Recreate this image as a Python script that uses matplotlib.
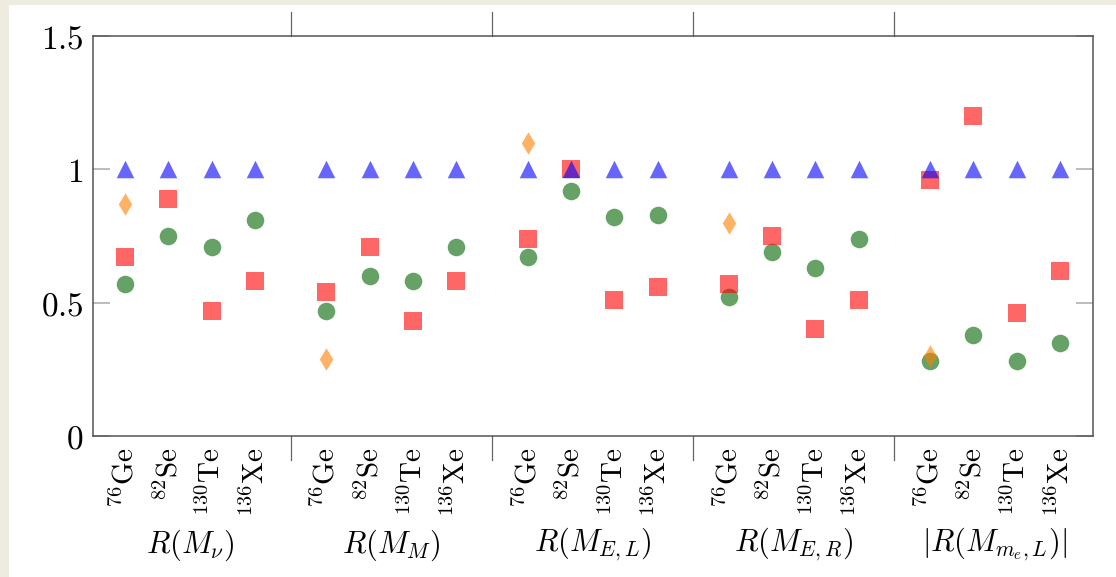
import numpy as np
import matplotlib.pyplot as plt
from matplotlib.patches import Rectangle

plt.rcParams['mathtext.fontset'] = 'cm'
plt.rcParams['font.family'] = ['DejaVu Serif']

# data
nuclei = [r'$^{76}\mathrm{Ge}$', r'$^{82}\mathrm{Se}$', r'$^{130}\mathrm{Te}$', r'$^{136}\mathrm{Xe}$']
groups = [r'$R(M_\nu)$', r'$R(M_M)$', r'$R(M_{E,L})$', r'$R(M_{E,R})$', r'$|R(M_{m_e,L})|$']

blue = [1, 1, 1, 1] * 5
red = [0.67, 0.89, 0.47, 0.58,
       0.54, 0.71, 0.43, 0.58,
       0.74, 1.00, 0.51, 0.56,
       0.57, 0.75, 0.40, 0.51,
       0.96, 1.20, 0.46, 0.62]
green = [0.57, 0.75, 0.71, 0.81,
         0.47, 0.60, 0.58, 0.71,
         0.67, 0.92, 0.82, 0.83,
         0.52, 0.69, 0.63, 0.74,
         0.28, 0.38, 0.28, 0.35]
# orange diamonds only at 76Ge
orange = [0.87, 0.29, 1.10, 0.80, 0.30]

gap = 4.64
x = np.array([g * gap + i for g in range(len(groups)) for i in range(len(nuclei))])
x_ge = x[::4]

fig = plt.figure(figsize=(11.16, 5.77), dpi=100)
fig.patch.set_facecolor('#eeece1')
fig.patches.append(Rectangle((9 / 1116, 0), 1, 1 - 5 / 577, transform=fig.transFigure,
                             facecolor='white', edgecolor='none', zorder=-10))
ax = fig.add_axes([93 / 1116, (577 - 436) / 577, 1000 / 1116, 400 / 577])
ax.set_facecolor('white')

ax.scatter(x, green, marker='o', s=160, color='#006400', alpha=0.6, lw=0, zorder=2)
ax.scatter(x, red, marker='s', s=180, color='red', alpha=0.6, lw=0, zorder=3)
ax.scatter(x_ge, orange, marker='d', s=130, color='#ff8000', alpha=0.6, lw=0, zorder=4)
ax.scatter(x, blue, marker='^', s=160, color='blue', alpha=0.6, lw=0, zorder=5)

ax.set_xlim(-0.74, x[-1] + 0.76)
ax.set_ylim(0, 1.5)
ax.set_yticks([0, 0.5, 1, 1.5])
ax.set_yticklabels([r'$0$', r'$0.5$', r'$1$', r'$1.5$'], fontsize=24)
ax.tick_params(axis='y', direction='in', length=12, width=1.2, color='#b0b0b0',
               right=True, pad=7)
ax.set_xticks(x)
ax.set_xticklabels(nuclei * 5, rotation=90, fontsize=21, va='top', ha='center')
ax.tick_params(axis='x', length=0, pad=8)

for sp in ax.spines.values():
    sp.set_color('#555555')
    sp.set_linewidth(1.1)

# group separators above and below the axes
tr = ax.get_xaxis_transform()
for g in range(1, len(groups)):
    xs = (x[4 * g - 1] + x[4 * g]) / 2
    ax.plot([xs, xs], [1.0, 1.06], transform=tr, color='#666666', lw=0.9, clip_on=False)
    ax.plot([xs, xs], [0, -0.06], transform=tr, color='#666666', lw=0.9, clip_on=False)

for g, name in enumerate(groups):
    xc = x[4 * g:4 * g + 4].mean()
    ax.text(xc, -0.272, name, transform=tr, ha='center', va='center', fontsize=22)

fig.savefig('out.png', dpi=100, facecolor=fig.get_facecolor())
